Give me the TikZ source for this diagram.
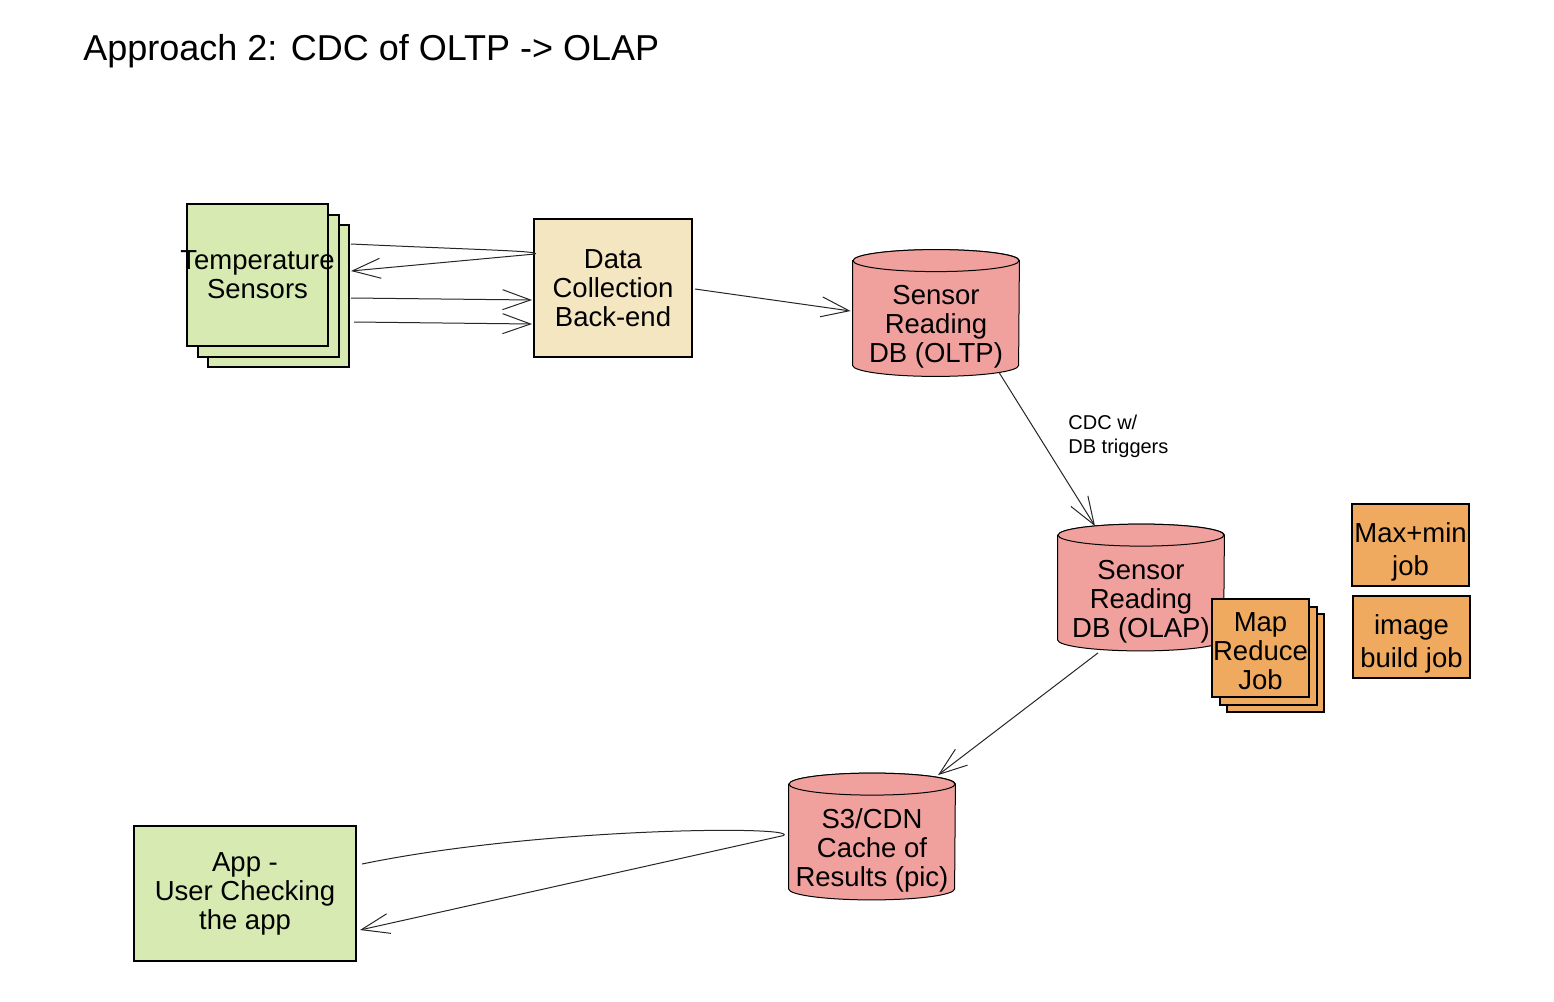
\documentclass[tikz,border=0pt]{standalone}
\usepackage{fontspec}
\setmainfont{Liberation Sans}
\usetikzlibrary{arrows.meta,calc,shadows,backgrounds}
\definecolor{sensgreen}{RGB}{214,234,178}
\definecolor{backtan}{RGB}{243,230,193}
\definecolor{dbpink}{RGB}{240,161,158}
\definecolor{joborange}{RGB}{240,170,96}
\tikzset{
  box/.style={draw, line width=1pt, align=center, inner sep=0pt,
    font=\fontsize{13.75}{14.5}\selectfont},
  jobbox/.style={box, fill=joborange, minimum width=58.5pt, minimum height=41pt,
    font=\fontsize{13.75}{16.75}\selectfont},
  db/.style={align=center, inner sep=0pt, minimum width=83pt, minimum height=52pt,
    text depth=0pt, font=\fontsize{13.75}{14.5}\selectfont},
  dbshape/.style={draw, fill=dbpink, line width=0.5pt},
  conn/.style={draw=black!85, line width=0.5pt, -{Straight Barb[length=14pt,width=10pt]}},
}
% cylinder round a db node
\newcommand{\dbcyl}[1]{%
  \begin{scope}[on background layer]
    \path[dbshape] ([yshift=5.5pt]#1.north west) -- ([yshift=5.5pt]#1.south west)
      arc[start angle=180, end angle=360, x radius=41.5pt, y radius=5.5pt]
      -- ([yshift=5.5pt]#1.north east)
      arc[start angle=0, end angle=180, x radius=41.5pt, y radius=5.5pt] -- cycle;
    \path[dbshape] ([yshift=5.5pt]#1.north) ellipse[x radius=41.5pt, y radius=5.5pt];
  \end{scope}}

\begin{document}
\begin{tikzpicture}[x=0.5pt,y=-0.5pt]
  \useasboundingbox (0,0) rectangle (1554,1002);

  \node[anchor=base west, inner sep=0pt, font=\fontsize{18}{21.6}\selectfont] (title) at (83,60)
    {Approach 2: CDC of OLTP -> OLAP};

  % sources
  \node[box, fill=sensgreen, minimum width=70.5pt, minimum height=71pt,
    general shadow={shadow xshift=10.5pt, shadow yshift=-10.5pt, fill=sensgreen, draw, line width=1pt},
    general shadow={shadow xshift=5.25pt, shadow yshift=-5.25pt, fill=sensgreen, draw, line width=1pt}]
    (sens) at (257.5,275) {\makebox[70.5pt]{Temperature}\\Sensors};
  \node[box, fill=backtan, minimum width=79pt, minimum height=69pt] (dc) at (613,288)
    {Data\\Collection\\Back-end};

  % stores
  \node[db] (oltp) at (936,324) {Sensor\\Reading\\DB (OLTP)};
  \dbcyl{oltp}
  \node[db] (olap) at (1141,598.5) {Sensor\\Reading\\DB (OLAP)};
  \dbcyl{olap}
  \node[db] (s3) at (872,847.5) {S3/CDN\\Cache of\\Results (pic)};
  \dbcyl{s3}

  % jobs
  \node[box, fill=joborange, minimum width=48.5pt, minimum height=49pt,
    general shadow={shadow xshift=7.5pt, shadow yshift=-7.5pt, fill=joborange, draw, line width=1pt},
    general shadow={shadow xshift=4pt, shadow yshift=-4pt, fill=joborange, draw, line width=1pt}]
    (mr) at (1260.5,648) {\rule{0pt}{12.5pt}Map\\Reduce\\Job};
  \node[jobbox] (maxmin) at (1410.5,545) {\rule{0pt}{17pt}Max+min\\job};
  \node[jobbox] (imgjob) at (1411.5,637) {\rule{0pt}{17pt}image\\build job};

  % client
  \node[box, fill=sensgreen, minimum width=111pt, minimum height=67.5pt] (app) at (245,893.5)
    {App -\\User Checking\\the app};

  % connectors
  \draw[conn] ($(sens.east)+(22,-31)$) .. controls ($(dc.west)+(-50,-38)$) and ($(dc.west)+(8,-37)$)
    .. ($(dc.west)+(2,-34)$) -- ($(sens.east)+(22,-4)$);
  \draw[conn] ($(sens.east)+(22,23)$) -- ($(dc.west)+(-1,12)$);
  \draw[conn] ($(sens.east)+(25,47)$) -- ($(dc.west)+(-1,36)$);
  \draw[conn] ($(dc.east)+(2,1)$) -- ($(oltp.west)+(-2,-13)$);
  \draw[conn] ($(oltp.south)+(63,-4)$) -- ($(olap.north)+(-46,-20)$);
  \node[anchor=north west, inner sep=0pt, align=left, font=\fontsize{10}{12}\selectfont] (cdc)
    at (1068,415) {CDC w/\\DB triggers};
  \draw[conn] ($(olap.south)+(-43,2)$) -- ($(s3.north)+(66,-20)$);
  \draw[conn] ($(app.east)+(5,-29.5)$) .. controls ($(s3.west)+(-250,-20)$) and ($(s3.west)+(10,-22)$)
    .. ($(s3.west)+(-5,-12)$) -- ($(app.east)+(3,36.5)$);
\end{tikzpicture}
\end{document}
